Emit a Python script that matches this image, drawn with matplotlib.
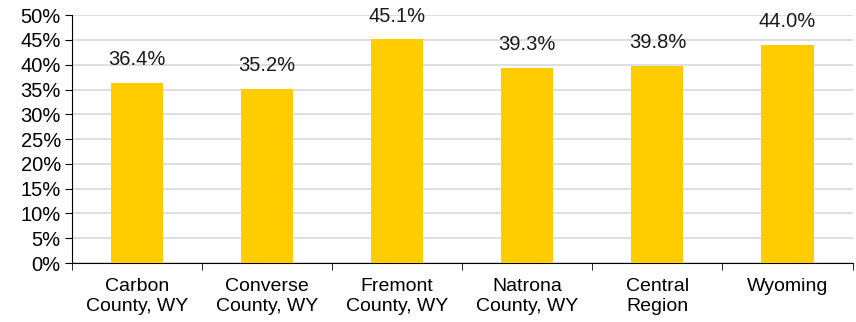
import numpy as np
import matplotlib.pyplot as plt
from matplotlib.ticker import MultipleLocator, FixedLocator

plt.rcParams['font.family'] = ['Liberation Sans', 'DejaVu Sans']

categories = ["Carbon\nCounty, WY", "Converse\nCounty, WY", "Fremont\nCounty, WY",
              "Natrona\nCounty, WY", "Central\nRegion", "Wyoming"]
values = [36.4, 35.2, 45.1, 39.3, 39.8, 44.0]

fig = plt.figure(figsize=(8.56, 3.22), dpi=100)
ax = fig.add_axes([0.084, 0.183, 0.912, 0.770])

x = np.arange(len(categories))
ax.bar(x, values, width=0.4, color='#FFCC00', zorder=3)

for xi, v in zip(x, values):
    ax.annotate(f"{v:.1f}%", (xi, v), xytext=(0, 10), textcoords='offset points',
                ha='center', va='bottom', fontsize=14.5, color='#1a1a1a')

ax.set_xlim(-0.5, len(categories) - 0.5)
ax.set_ylim(0, 50)
ax.yaxis.set_major_locator(MultipleLocator(5))
ax.set_yticklabels([f"{int(t)}%" for t in ax.get_yticks()])
ax.tick_params(axis='y', labelsize=14.5, length=5, direction='out', colors='black', pad=3)

ax.set_xticks(x)
ax.set_xticklabels(categories, fontsize=14, linespacing=1.2)
ax.tick_params(axis='x', which='major', length=0, pad=11)
ax.xaxis.set_minor_locator(FixedLocator(np.arange(-0.5, len(categories), 1.0)))
ax.tick_params(axis='x', which='minor', length=5, direction='out')

ax.grid(axis='y', color='#D9D9D9', linewidth=1.2, zorder=0)
for side in ['top', 'right']:
    ax.spines[side].set_visible(False)
ax.spines['left'].set_color('black')
ax.spines['bottom'].set_color('black')

fig.savefig('out.png', dpi=100)
